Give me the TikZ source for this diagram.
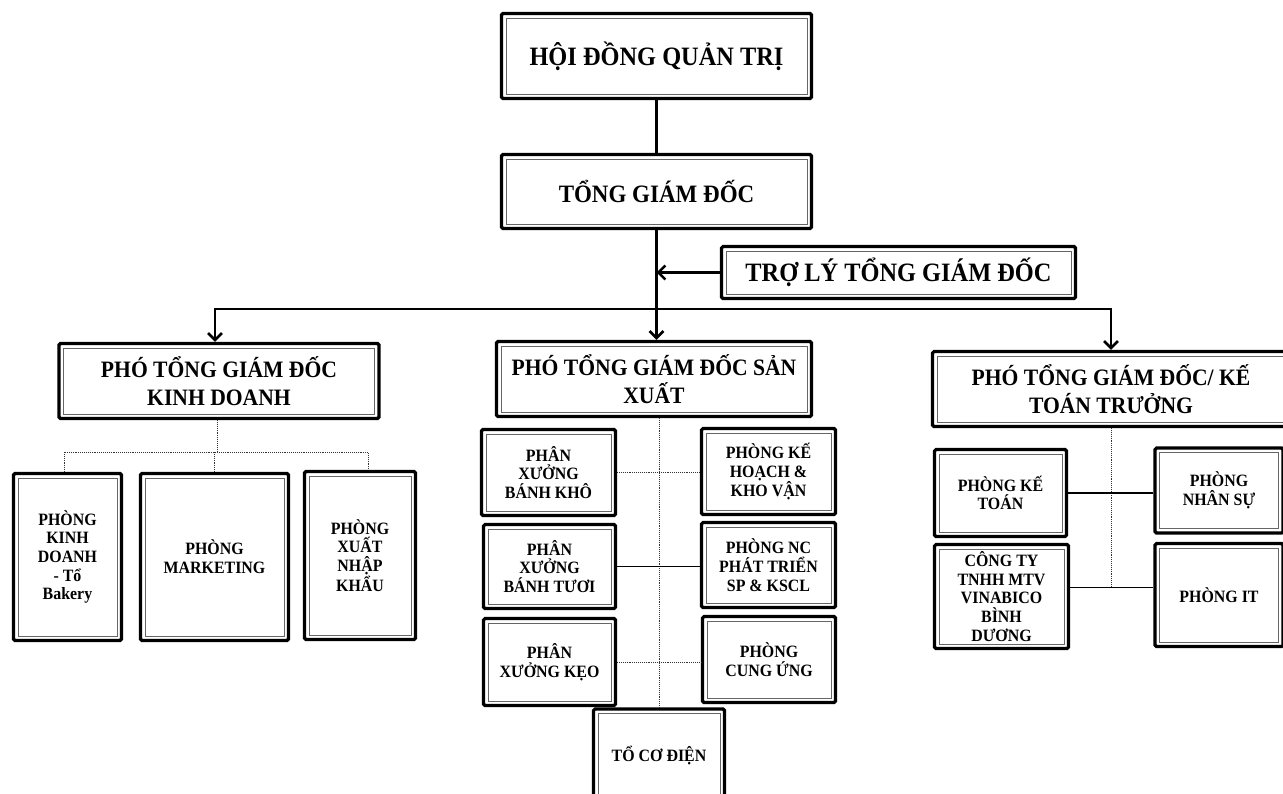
\documentclass[tikz,border=0pt]{standalone}
\usepackage{fontspec}
\setmainfont[FakeStretch=0.92]{Liberation Serif}
\usetikzlibrary{arrows.meta}
\begin{document}
\begin{tikzpicture}[x=1pt,y=-1pt,
 bx/.style={draw=black, line width=3.2pt, rounded corners=1.5pt, fill=white, align=center, inner sep=2pt,
   path picture={\draw[line width=0.7pt, black!60, sharp corners]
     ([shift={(4.5pt,4.5pt)}]path picture bounding box.south west) rectangle
     ([shift={(-4.5pt,-4.5pt)}]path picture bounding box.north east);}},
 top/.style={bx, font=\fontsize{26.5}{30}\selectfont\bfseries},
 big/.style={bx, font=\fontsize{23.5}{28}\selectfont\bfseries},
 sm/.style={bx, font=\fontsize{17.3}{18.7}\selectfont\bfseries},
 main/.style={line width=2.6pt},
 arr/.style={main, -{Straight Barb[length=7pt,width=14pt]}},
 dot/.style={line width=0.9pt, densely dotted, black!80},
 sol/.style={line width=1.1pt}]
\useasboundingbox (0,0) rectangle (1283,793);
\fill[white] (0,0) rectangle (1283,793);
\clip (0,0) rectangle (1283,793);

% top level
\node[top, minimum width=310pt, minimum height=85pt] (hdqt) at (656.5,56) {HỘI ĐỒNG QUẢN TRỊ};
\node[top, font=\fontsize{25}{30}\selectfont\bfseries, minimum width=310pt, minimum height=74pt] (tgd) at (656.5,191.5) {TỔNG GIÁM ĐỐC};
\node[top, minimum width=354pt, minimum height=52pt] (trl) at (898.5,272.5) {TRỢ LÝ TỔNG GIÁM ĐỐC};

% deputies
\node[big, minimum width=320pt, minimum height=75pt] (pkd) at (219,381) {PHÓ TỔNG GIÁM ĐỐC\\KINH DOANH};
\node[big, minimum width=315pt, minimum height=75pt] (psx) at (654,379) {PHÓ TỔNG GIÁM ĐỐC SẢN\\XUẤT};
\node[big, minimum width=357pt, minimum height=75pt] (pkt) at (1111,389) {PHÓ TỔNG GIÁM ĐỐC/ KẾ\\TOÁN TRƯỞNG};

% left branch
\node[sm, minimum width=108pt, minimum height=167pt] (kd1) at (67.5,557) {PHÒNG\\KINH\\DOANH\\- Tổ\\Bakery};
\node[sm, minimum width=148pt, minimum height=167pt] (kd2) at (214.5,557) {PHÒNG\\MARKETING};
\node[sm, minimum width=111pt, minimum height=168pt] (kd3) at (360,555.5) {PHÒNG\\XUẤT\\NHẬP\\KHẨU};

% middle branch
\node[sm, minimum width=134pt, minimum height=86pt] (bk) at (548.5,472.5) {PHÂN\\XƯỞNG\\BÁNH KHÔ};
\node[sm, minimum width=134pt, minimum height=86pt] (kh) at (768.5,471.5) {PHÒNG KẾ\\HOẠCH \&\\KHO VẬN};
\node[sm, minimum width=132pt, minimum height=84pt] (bt) at (549.5,566.5) {PHÂN\\XƯỞNG\\BÁNH TƯƠI};
\node[sm, minimum width=134pt, minimum height=85pt] (nc) at (768.5,565) {PHÒNG NC\\PHÁT TRIỂN\\SP \& KSCL};
\node[sm, minimum width=132pt, minimum height=87pt] (keo) at (549.5,662) {PHÂN\\XƯỞNG KẸO};
\node[sm, minimum width=133pt, minimum height=86pt] (cu) at (769,659.5) {PHÒNG\\CUNG ỨNG};
\node[sm, minimum width=131pt, minimum height=92pt] (tcd) at (659,755) {TỔ CƠ ĐIỆN};

% right branch
\node[sm, minimum width=132pt, minimum height=87pt] (pktoan) at (1000.5,493) {PHÒNG KẾ\\TOÁN};
\node[sm, minimum width=128pt, minimum height=85pt] (pns) at (1219,490.5) {PHÒNG\\NHÂN SỰ};
\node[sm, minimum width=134pt, minimum height=104pt] (cty) at (1001.5,596.5) {CÔNG TY\\TNHH MTV\\VINABICO\\BÌNH\\DƯƠNG};
\node[sm, minimum width=128pt, minimum height=103pt] (pit) at (1219,595) {PHÒNG IT};

% main connectors
\coordinate (hb) at (656.5,309);
\draw[main] (hdqt) -- (tgd);
\draw[main] (tgd.south) -- (hb);
\draw[arr] (hb) -- (hb |- psx.north);
\draw[arr] (hb) -| ([xshift=-4pt]pkd.north);
\draw[arr] (hb) -| (pkt.north);
\draw[arr] (trl.west) -- (trl.west -| tgd.south);

% left tree
\coordinate (kdj) at (217,452);
\draw[dot] ([xshift=-2pt]pkd.south) -- (kdj);
\draw[dot] ([xshift=-3.5pt]kd1.north) |- (kdj) -| ([xshift=8pt]kd3.north);
\draw[dot] (kd2.north) -- (kd2.north |- kdj);

% middle tree
\draw[dot] (tcd.north |- psx.south) -- (tcd.north);
\draw[dot] (bk.east) -- (bk.east -| kh.west);
\draw[sol] (bt.east) -- (bt.east -| nc.west);
\draw[dot] (keo.east) -- (keo.east -| cu.west);

% right tree
\coordinate (rb) at ([yshift=9pt]cty.east -| pkt.south);
\draw[dot] (pkt.south) -- (rb);
\draw[sol] (pktoan.east) -- (pktoan.east -| pns.west);
\draw[sol] ([yshift=9pt]cty.east) -- ([yshift=9pt]cty.east -| pit.west);
\end{tikzpicture}
\end{document}
